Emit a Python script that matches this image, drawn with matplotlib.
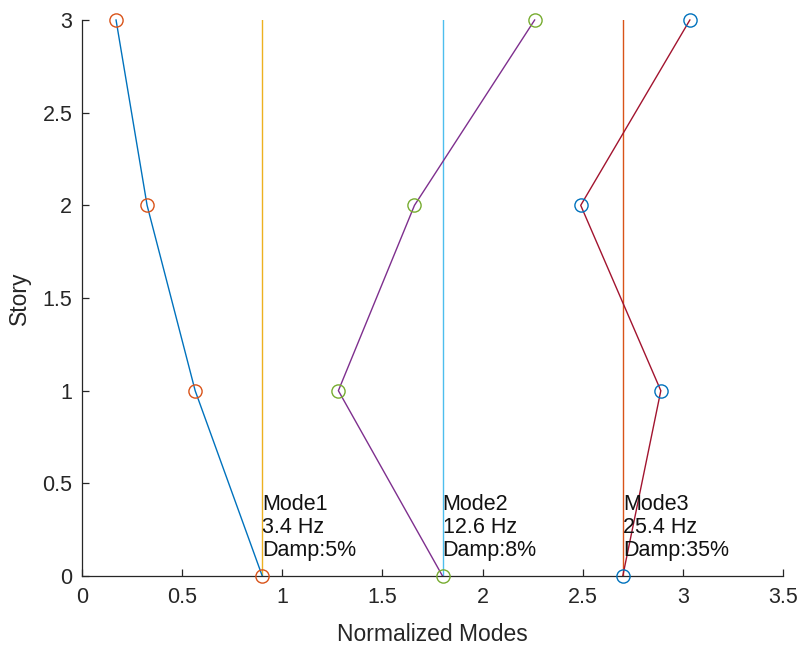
import numpy as np
import matplotlib
matplotlib.use("Agg")
import matplotlib.pyplot as plt

# ============================================================
# Data
# ============================================================

stories = [0, 1, 2, 3]
offsets = [0.9, 1.8, 2.7]

# mode shape displacement relative to each offset
mode1 = [0.0, -0.335, -0.575, -0.73]
mode2 = [0.0, -0.52, -0.14, 0.46]
mode3 = [0.0, 0.19, -0.21, 0.335]

mode_names = ["Mode1", "Mode2", "Mode3"]
freqs = ["3.4 Hz", "12.6 Hz", "25.4 Hz"]
damps = ["Damp:5%", "Damp:8%", "Damp:35%"]

# MATLAB default color order
C = ["#0072BD", "#D95319", "#EDB120", "#7E2F8E", "#77AC30", "#4DBEEE", "#A2142F"]

plt.rcParams["font.family"] = ["Liberation Sans", "DejaVu Sans"]

fig = plt.figure(figsize=(8.05, 6.48), dpi=100)
ax = fig.add_axes([82 / 805, 72 / 648, 701 / 805, 556 / 648])

modes = [mode1, mode2, mode3]
k = 0
for off, shape, name, f, d in zip(offsets, modes, mode_names, freqs, damps):
    xs = np.array(shape) + off
    ax.plot(xs, stories, "-", color=C[k % 7], lw=1.0, zorder=2, clip_on=False)
    ax.plot(xs, stories, "o", mfc="none", mec=C[(k + 1) % 7], ms=9.5, mew=1.0,
            zorder=3, clip_on=False)
    ax.plot([off, off], [0, 3], "-", color=C[(k + 2) % 7], lw=1.0, zorder=1)
    ax.text(off, 0.08, name + "\n" + f + "\n" + d, fontsize=15.5, color="#111111",
            ha="left", va="bottom", linespacing=1.12, zorder=4)
    k += 3

ax.set_xlim(0, 3.5)
ax.set_ylim(0, 3)
ax.set_xticks(np.arange(0, 3.51, 0.5))
ax.set_yticks(np.arange(0, 3.01, 0.5))
ax.set_xticklabels(["0", "0.5", "1", "1.5", "2", "2.5", "3", "3.5"])
ax.set_yticklabels(["0", "0.5", "1", "1.5", "2", "2.5", "3"])
ax.tick_params(direction="in", length=5, width=0.9, labelsize=15.5, colors="#262626")
ax.tick_params(axis="x", pad=8)
ax.tick_params(axis="y", pad=7)
for s in ["top", "right"]:
    ax.spines[s].set_visible(False)
for s in ["left", "bottom"]:
    ax.spines[s].set_color("#262626")
    ax.spines[s].set_linewidth(0.9)

ax.set_xlabel("Normalized Modes", fontsize=16.5, color="#262626", labelpad=11)
ax.set_ylabel("Story", fontsize=16.5, color="#262626", labelpad=8)

fig.savefig("out.png", dpi=100)
